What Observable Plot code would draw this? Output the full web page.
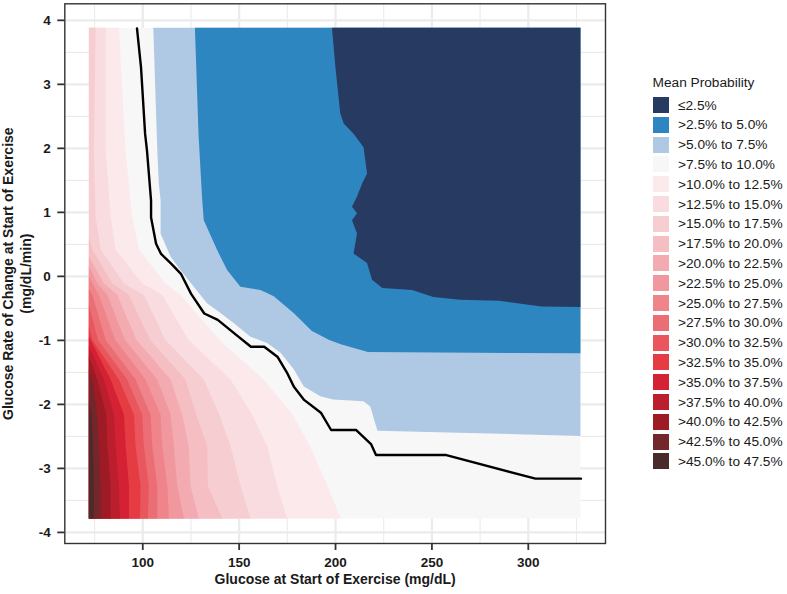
<!DOCTYPE html>
<html><head><meta charset="utf-8">
<script src="https://cdn.jsdelivr.net/npm/d3@7"></script>
<script src="https://cdn.jsdelivr.net/npm/@observablehq/plot@0.6"></script>
<style>
body{margin:0;background:#fff;font-family:"Liberation Sans",Arial,sans-serif;}
#wrap{position:relative;width:787px;height:594px;overflow:hidden;}
#legend{position:absolute;left:0;top:0;}
.lt{position:absolute;font-size:13.7px;color:#1a1a1a;white-space:nowrap;}
.lk{position:absolute;width:16px;height:16px;}
</style></head><body><div id="wrap"></div>
<script>
// ---- data extents (glucose mg/dL, rate mg/dL/min)
const glucoseRange = [72.3, 327.3];
const rateRange = [-3.79, 3.875];

// ---- legend
const legendTitle = "Mean Probability";
const legendLabels = ["≤2.5%", ">2.5% to 5.0%", ">5.0% to 7.5%", ">7.5% to 10.0%",
  ">10.0% to 12.5%", ">12.5% to 15.0%", ">15.0% to 17.5%", ">17.5% to 20.0%",
  ">20.0% to 22.5%", ">22.5% to 25.0%", ">25.0% to 27.5%", ">27.5% to 30.0%",
  ">30.0% to 32.5%", ">32.5% to 35.0%", ">35.0% to 37.5%", ">37.5% to 40.0%",
  ">40.0% to 42.5%", ">42.5% to 45.0%", ">45.0% to 47.5%"];
const legendColors = ["#273A62", "#2E86C1", "#AFC9E5", "#F7F7F7",
  "#FCE9EB", "#F9DCDF", "#F6CDD1", "#F4BEC3", "#F3AAB0", "#F1979E", "#EF858B",
  "#EC6E75", "#E9565D", "#E53B42", "#D42234", "#BB1E2D", "#9E1B26", "#73272A", "#4A2B2B"];

// ---- contour boundaries [rate, glucose], low (upper-right) probability bands
const bound7_5 = [[-2.5,327.3],[-2.42,222],[-2.21,219.9],[-2.04,218.3],[-1.96,214.7],[-1.93,199],[-1.88,192.4],
  [-1.73,183.8],[-1.46,178.6],[-1.2,171.7],[-1.05,164.8],[-0.95,156.1],[-0.74,147.5],[-0.58,140.6],
  [-0.43,133.7],[-0.17,126.7],[0.09,119.8],[0.30,114.7],[0.66,109.5],[1.18,109.5],[1.44,108.6],
  [1.96,107.8],[3.875,105.7]];
const bound5_0 = [[-1.21,327.3],[-1.19,217],[-1.07,203],[-1.0,197],[-0.86,188],[-0.58,178.5],[-0.32,168.2],
  [-0.22,161.3],[-0.17,150.9],[0.09,144],[0.40,138.9],[0.87,131.9],[1.18,131.1],[2.2,129.2],[3.875,127.3]];
const bound2_5 = [[-0.485,327.3],[-0.48,307],[-0.39,285],[-0.375,265],[-0.33,251],[-0.22,240],[-0.19,224.5],
  [-0.06,219.2],[0.20,216.6],[0.35,209.6],[0.66,211.4],[0.87,208.8],[0.98,211.4],[1.08,208.8],[1.24,211.4],
  [1.44,214],[1.60,216.6],[2.01,214.8],[2.22,209.6],[2.38,204.5],[2.54,202.7],[3.26,200.2],[3.875,198.4]];

// ---- contour boundaries [rate, glucose], high (lower-left) probability bands
const redThresholds = [10, 12.5, 15, 17.5, 20, 22.5, 25, 27.5, 30, 32.5, 35, 37.5, 40, 42.5, 45];
const redBounds = [
  [[-3.79,203],[-3.28,196],[-2.66,187],[-2.17,178],[-1.62,163],[-1.0,140],[-0.3,120],[-0.12,112],[0.41,98.3],[0.92,94.8],[1.96,91.3],[3.875,87.9]],
  [[-3.79,175.1],[-3.28,170],[-2.66,164.8],[-2.17,157],[-1.62,145.8],[-1.0,124],[-0.3,110.4],[-0.12,100],[0.41,86.2],[0.92,83.6],[1.96,81],[3.875,81]],
  [[-3.79,156.1],[-3.28,151],[-2.66,145.8],[-2.17,140],[-1.62,131.9],[-1.0,112],[-0.3,100.8],[-0.12,90.5],[0.41,78.4],[0.92,75.8],[1.96,74.9],[3.875,75.8]],
  [[-3.79,141.5],[-3.28,134],[-2.66,133.7],[-2.17,128],[-1.62,122.4],[-1.0,104],[-0.3,93.1],[-0.12,84.5],[0.41,74.1],[0.6,72.3]],
  [[-3.79,129.3],[-3.28,125],[-2.66,124.1],[-2.17,120.7],[-1.62,114.7],[-1.0,97],[-0.3,87],[-0.12,80.1],[0.3,72.3]],
  [[-3.79,121.6],[-3.28,118.1],[-2.66,116.4],[-2.17,114.7],[-1.62,107.8],[-1.0,91],[-0.3,81.9],[-0.12,76.7],[0.15,72.3]],
  [[-3.79,113.8],[-3.28,113],[-2.66,110.4],[-2.17,109.5],[-1.62,101.7],[-1.0,86],[-0.3,77.5],[-0.12,74.1],[0.0,72.3]],
  [[-3.79,107.8],[-3.28,107.8],[-2.66,105.2],[-2.17,104.3],[-1.62,96.5],[-1.0,81],[-0.3,74.1],[-0.2,72.3]],
  [[-3.79,102.9],[-3.28,103.4],[-2.66,100.8],[-2.17,100],[-1.62,92.2],[-1.0,77],[-0.45,72.3]],
  [[-3.79,98.8],[-3.28,99.1],[-2.66,96.5],[-2.17,95.7],[-1.62,87.9],[-1.0,74],[-0.8,72.3]],
  [[-3.79,93.1],[-3.28,93.1],[-2.66,91.4],[-2.17,90.5],[-1.62,83.6],[-0.95,72.3]],
  [[-3.79,88.4],[-3.28,87.9],[-2.66,86.2],[-2.17,85.3],[-1.62,80.1],[-1.1,72.3]],
  [[-3.79,83.6],[-3.28,83.6],[-2.66,81.9],[-2.17,81.3],[-1.62,76.7],[-1.25,72.3]],
  [[-3.79,78.4],[-3.28,78.4],[-2.66,77.5],[-2.17,76.7],[-1.62,74.1],[-1.45,72.3]],
  [[-3.79,74.9],[-3.28,74.9],[-2.66,74.4],[-2.17,73.7],[-1.95,72.3]]
];

// ---- black reference contour [glucose, rate]
const refLine = [[97.0,3.875],[99.1,3.26],[101.2,2.23],[102.2,1.96],[104.3,1.18],[104.3,0.92],[106.9,0.51],
  [109.5,0.35],[114.7,0.20],[119.8,0.04],[125,-0.27],[131.9,-0.58],[138.9,-0.68],[147.5,-0.89],
  [156.1,-1.10],[163,-1.10],[170,-1.26],[175.1,-1.52],[178.5,-1.73],[183.7,-1.93],[192.4,-2.13],
  [197.7,-2.40],[210.6,-2.40],[218.4,-2.62],[221,-2.79],[257,-2.79],[303.7,-3.16],[327.3,-3.16]];

// ---- axes
const xTicks = [100, 150, 200, 250, 300];
const xMinor = [75, 125, 175, 225, 275, 325];
const yTicks = [-4, -3, -2, -1, 0, 1, 2, 3, 4];
const yMinor = [-3.5, -2.5, -1.5, -0.5, 0.5, 1.5, 2.5, 3.5];
const xTitle = "Glucose at Start of Exercise (mg/dL)";
const yTitle1 = "Glucose Rate of Change at Start of Exercise";
const yTitle2 = "(mg/dL/min)";

// expanded domains (5% like ggplot)
const ex = (r) => { const d = (r[1] - r[0]) * 0.05; return [r[0] - d, r[1] + d]; };
const fmt = (d) => String(d);

const marks = [
  Plot.gridX(xMinor, {stroke: "#EBEBEB", strokeOpacity: 1, strokeWidth: 1.1}),
  Plot.gridY(yMinor, {stroke: "#EBEBEB", strokeOpacity: 1, strokeWidth: 1.1}),
  Plot.gridX(xTicks, {stroke: "#EBEBEB", strokeOpacity: 1, strokeWidth: 2.2}),
  Plot.gridY(yTicks, {stroke: "#EBEBEB", strokeOpacity: 1, strokeWidth: 2.2}),
  Plot.rect([0], {x1: () => glucoseRange[0], x2: () => glucoseRange[1], y1: () => rateRange[0], y2: () => rateRange[1], fill: legendColors[3]}),
  Plot.areaX(bound7_5, {y: d => d[0], x1: d => d[1], x2: () => glucoseRange[1], fill: legendColors[2]}),
  Plot.areaX(bound5_0, {y: d => d[0], x1: d => d[1], x2: () => glucoseRange[1], fill: legendColors[1]}),
  Plot.areaX(bound2_5, {y: d => d[0], x1: d => d[1], x2: () => glucoseRange[1], fill: legendColors[0]}),
  ...redBounds.map((b, i) => Plot.areaX(b, {y: d => d[0], x1: () => glucoseRange[0], x2: d => d[1], fill: legendColors[4 + i]})),
  Plot.line(refLine, {x: d => d[0], y: d => d[1], stroke: "#000", strokeWidth: 2.4}),
  Plot.frame({stroke: "#333", strokeWidth: 1.4}),
  Plot.axisX(xTicks, {tickSize: 7, tickPadding: 7, tickFormat: fmt, fontSize: 13.5, fontWeight: "bold", stroke: "#333", strokeWidth: 1.8, fill: "#1a1a1a", label: null}),
  Plot.axisY(yTicks, {tickSize: 7, tickPadding: 7, tickFormat: fmt, fontSize: 13.5, fontWeight: "bold", stroke: "#333", strokeWidth: 1.8, fill: "#1a1a1a", label: null}),
  Plot.text([xTitle], {frameAnchor: "bottom", dy: 40, textAnchor: "middle", fontSize: 14, fontWeight: "bold", fill: "#1a1a1a"}),
  Plot.text([yTitle1], {frameAnchor: "left", dx: -56, rotate: -90, textAnchor: "middle", fontSize: 14, fontWeight: "bold", fill: "#1a1a1a"}),
  Plot.text([yTitle2], {frameAnchor: "left", dx: -38.5, rotate: -90, textAnchor: "middle", fontSize: 14, fontWeight: "bold", fill: "#1a1a1a"})
];

const chart = Plot.plot({
  width: 787, height: 594,
  marginLeft: 64.3, marginRight: 182, marginTop: 3.3, marginBottom: 51,
  x: {domain: ex(glucoseRange)},
  y: {domain: ex(rateRange)},
  style: {fontFamily: "'Liberation Sans', Arial, sans-serif", background: "white", color: "#1a1a1a"},
  marks
});
const wrap = document.getElementById("wrap");
wrap.appendChild(chart);

// legend
const lg = d3.select(wrap).append("div").attr("id", "legend");
lg.append("div").attr("class", "lt").style("left", "652.5px").style("top", "74px").style("line-height", "17px").text(legendTitle);
legendLabels.forEach((lab, i) => {
  const cy = 105 + 19.8 * i;
  lg.append("div").attr("class", "lk").style("left", "653px").style("top", (cy - 8) + "px").style("background", legendColors[i]);
  lg.append("div").attr("class", "lt").style("left", "678px").style("top", (cy - 8.5) + "px").style("line-height", "17px").text(lab);
});
</script></body></html>
